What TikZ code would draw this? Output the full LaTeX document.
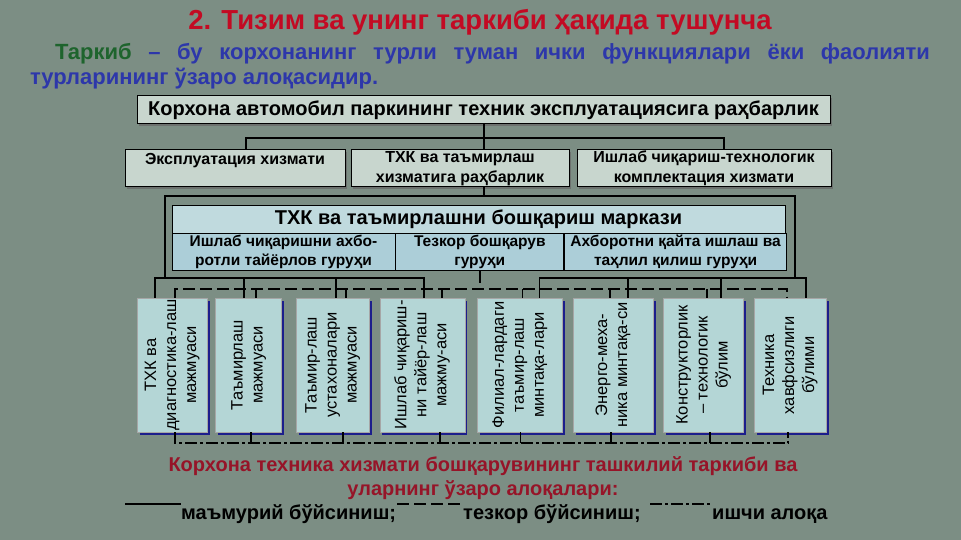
\documentclass[tikz,border=0pt]{standalone}
\usepackage{fontspec}
\setmainfont{Liberation Sans}
\usetikzlibrary{positioning,shadows}
\definecolor{bg}{RGB}{124,142,132}
\definecolor{boxfill}{RGB}{200,214,206}
\definecolor{ctrfill}{RGB}{192,218,222}
\definecolor{cellfill}{RGB}{172,206,216}
\definecolor{vfill}{RGB}{180,214,214}
\definecolor{vline}{RGB}{28,30,140}
\definecolor{ttlred}{RGB}{195,10,35}
\definecolor{subred}{RGB}{150,20,40}
\definecolor{grn}{RGB}{30,100,45}
\definecolor{blu}{RGB}{45,55,170}
\newcommand{\vlines}[1]{\rotatebox{90}{\begin{tabular}{@{}c@{}}#1\end{tabular}}}

\begin{document}
\begin{tikzpicture}[x=1pt,y=-1pt,node distance=10pt,
  box/.style={draw,line width=1pt,fill=boxfill,inner sep=1pt,align=center,
    font=\bfseries\fontsize{16}{20}\selectfont,
    drop shadow={shadow xshift=2pt,shadow yshift=-2pt,fill=black!60,opacity=.7}},
  cell/.style={draw,line width=.8pt,fill=cellfill,inner sep=1pt,align=center,
    minimum height=37,font=\bfseries\fontsize{15.5}{19}\selectfont},
  vbox/.style={draw=black!35,line width=.6pt,fill=vfill,inner sep=0pt,minimum height=134,
    font=\fontsize{16.5}{20}\selectfont,
    drop shadow={shadow xshift=2.5pt,shadow yshift=-2.5pt,fill=vline,opacity=1}},
  admin/.style={line width=1.8pt},
  oper/.style={line width=1.8pt,dash pattern=on 12pt off 5pt},
  work/.style={line width=1.8pt,dash pattern=on 12pt off 3pt on 3pt off 3pt},
  legend/.style={font=\bfseries\fontsize{20}{24}\selectfont,inner sep=0pt}]

\fill[bg] (0,0) rectangle (961,540);

% heading and definition
\node[text=ttlred,font=\bfseries\fontsize{27.5}{32}\selectfont] (ttl) at (480,22)
  {2. Тизим ва унинг таркиби ҳақида тушунча};
\node[text=blu,font=\bfseries\fontsize{22}{25}\selectfont,text width=900pt,align=justify,inner sep=0pt]
  (def) at (480,66) {\hspace*{25pt}{\color{grn}Таркиб} – бу корхонанинг турли туман ички функциялари ёки фаолияти\linebreak турларининг ўзаро алоқасидир.};

% top levels
\node[box,minimum width=693,minimum height=28,font=\bfseries\fontsize{20}{22}\selectfont] (top) at (483.5,110)
  {Корхона автомобил паркининг техник эксплуатациясига раҳбарлик};
\node[box,minimum width=220,minimum height=37] (s_1) at (235,168.5) {Эксплуатация хизмати\\ \mbox{}};
\node[box,minimum width=218,minimum height=37] (s_2) [right=5pt of s_1] {ТХК ва таъмирлаш\\хизматига раҳбарлик};
\node[box,minimum width=254,minimum height=37] (s_3) [right=7pt of s_2] {Ишлаб чиқариш-технологик\\комплектация хизмати};

% control centre
\node[cell,fill=ctrfill,minimum width=613,minimum height=28,font=\bfseries\fontsize{20}{22}\selectfont] (ctr) at (478.5,219)
  {ТХК ва таъмирлашни бошқариш маркази};
\node[cell,minimum width=223,anchor=north west] (c_1) at (ctr.south west) {Ишлаб чиқаришни ахбо-\\ротли тайёрлов гуруҳи};
\node[cell,minimum width=168] (c_2) [right=0pt of c_1] {Тезкор бошқарув\\гуруҳи};
\node[cell,minimum width=222] (c_3) [right=0pt of c_2] {Ахборотни қайта ишлаш ва\\таҳлил қилиш гуруҳи};

% units
\node[vbox,minimum width=70] (v_1) at (172,365) {\vlines{ТХК ва\\диагностика-лаш\\мажмуаси}};
\node[vbox,minimum width=66] (v_2) [right=8pt of v_1] {\vlines{Таъмирлаш\\мажмуаси}};
\node[vbox,minimum width=73] (v_3) [right=14pt of v_2] {\vlines{Таъмир-лаш\\устахоналари\\мажмуаси}};
\node[vbox,minimum width=85] (v_4) [right=10pt of v_3] {\vlines{Ишлаб чиқариш-\\ни тайёр-лаш\\мажму-аси}};
\node[vbox,minimum width=85] (v_5) [right=12pt of v_4] {\vlines{Филиал-лардаги\\таъмир-лаш\\минтақа-лари}};
\node[vbox,minimum width=80] (v_6) [right=10pt of v_5] {\vlines{Энерго-меха-\\ника минтақа-си}};
\node[vbox,minimum width=80] (v_7) [right=10pt of v_6] {\vlines{Конструкторлик\\– технологик\\бўлим}};
\node[vbox,minimum width=72] (v_8) [right=10pt of v_7] {\vlines{Техника\\хавфсизлиги\\бўлими}};

% administrative links
\coordinate (j_1) at (484,138);
\coordinate (f_l) at (165,196);
\coordinate (f_r) at (795,196);
\coordinate (bus_a) at (0,278);
\draw[admin] (top.south -| j_1) -- (j_1);
\draw[admin] ([xshift=11]s_1.north) |- (j_1) -| ([xshift=20]s_3.north);
\draw[admin] (j_1) -- (s_2.north -| j_1);
\draw[admin] (s_2.south -| j_1) -- (f_l -| j_1);
\draw[admin] (bus_a -| f_l) -- (f_l) -- (f_r) -- (bus_a -| f_r);
\draw[admin] ([xshift=-17]v_1.north) -- ++(0,-20) -| ([xshift=1.5]v_4.north);
\draw[admin] ([xshift=-5]v_2.north) -- ++(0,-20);
\draw[admin] ([xshift=3.5]v_3.north) -- ++(0,-20);
\draw[admin] ([xshift=19.5]v_5.north) -- ++(0,-20) -| ([xshift=16]v_8.north);
\draw[admin] ([xshift=15]v_6.north) -- ++(0,-20);
\draw[admin] ([xshift=17]v_7.north) -- ++(0,-20);

% operative links
\draw[oper] (c_2.south) -- ++(0,19);
\draw[oper] ([xshift=3]v_1.north) -- ++(0,-9) -| ([xshift=-3]v_8.north);
\draw[oper] ([xshift=7]v_2.north) -- ++(0,-9);
\draw[oper] ([xshift=13.5]v_3.north) -- ++(0,-9);
\draw[oper] ([xshift=19.5]v_4.north) -- ++(0,-9);
\draw[oper] ([xshift=2.5]v_5.north) -- ++(0,-9);
\draw[oper] ([xshift=-3]v_6.north) -- ++(0,-9);
\draw[oper] ([xshift=3]v_7.north) -- ++(0,-9);

% working links
\draw[work] ([xshift=3]v_1.south) -- ++(0,11) -| ([xshift=-2]v_8.south);
\draw[work] ([xshift=2]v_2.south) -- ++(0,11);
\draw[work] ([xshift=10.5]v_3.south) -- ++(0,11);
\draw[work] ([xshift=17.5]v_4.south) -- ++(0,11);
\draw[work] ([xshift=.5]v_5.south) -- ++(0,11);
\draw[work] ([xshift=-2]v_6.south) -- ++(0,11);
\draw[work] ([xshift=6]v_7.south) -- ++(0,11);

% caption and legend
\node[text=subred,font=\bfseries\fontsize{20}{24}\selectfont,align=center] (cap) at (483,478)
  {Корхона техника хизмати бошқарувининг ташкилий таркиби ва\\уларнинг ўзаро алоқалари:};
\node[legend,anchor=base west] (lg_1) at (181,519) {маъмурий бўйсиниш;};
\node[legend,anchor=base west] (lg_2) at (463,519) {тезкор бўйсиниш;};
\node[legend,anchor=base west] (lg_3) at (712,519) {ишчи алоқа};
\coordinate (m_1) at (125,504);
\coordinate (m_2) at (397,504);
\coordinate (m_3) at (650,504);
\draw[admin] (m_1) -- (m_1 -| lg_1.west);
\draw[oper] (m_2) -- (m_2 -| lg_2.west);
\draw[work] (m_3) -- (m_3 -| lg_3.west);

\end{tikzpicture}
\end{document}
